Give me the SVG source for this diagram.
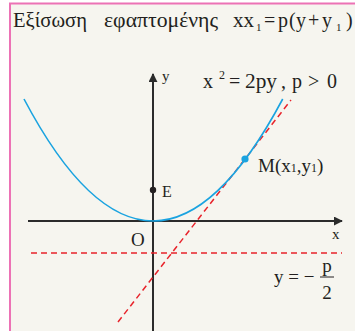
<svg xmlns="http://www.w3.org/2000/svg" width="355" height="331" viewBox="0 0 355 331">
<defs>
<style>
.t{font-family:"Liberation Serif","Times New Roman",serif;fill:#231f20}
.ax{stroke:#2b2b2b;stroke-width:2;fill:none}
.dash{stroke:#e8232b;stroke-width:1.5;fill:none;stroke-dasharray:6 4}
</style>
<marker id="ar" viewBox="0 0 10 10" refX="9" refY="5" markerWidth="9" markerHeight="9" markerUnits="userSpaceOnUse" orient="auto">
<path d="M0,0 L10,5 L0,10 z" fill="#2b2b2b"/>
</marker>
</defs>
<rect width="355" height="331" fill="#ffffff"/>
<rect x="10" y="3.5" width="350" height="330" fill="#f6f5ef" stroke="#ec72b5" stroke-width="2"/>
<g id="title">
<text class="t" x="13" y="27" font-size="20" textLength="74" lengthAdjust="spacingAndGlyphs">Εξίσωση</text>
<text class="t" x="104" y="27" font-size="20" textLength="114" lengthAdjust="spacingAndGlyphs">εφαπτομένης</text>
<g font-size="20" class="t">
<text class="t" x="233" y="27" textLength="21" lengthAdjust="spacingAndGlyphs">xx</text>
<text class="t" x="256" y="31" font-size="11">1</text>
<text class="t" x="264" y="27">=</text>
<text class="t" x="278" y="27">p</text>
<text class="t" x="289" y="27">(</text>
<text class="t" x="296" y="27">y</text>
<text class="t" x="308" y="27">+</text>
<text class="t" x="322" y="27">y</text>
<text class="t" x="336" y="31" font-size="11">1</text>
<text class="t" x="346" y="27">)</text>
</g>
</g>
<g id="connectors">
<line class="ax" x1="28" y1="221" x2="342" y2="221" marker-end="url(#ar)"/>
<line class="ax" x1="153" y1="331" x2="153" y2="74" marker-end="url(#ar)"/>
<line class="dash" x1="31" y1="253" x2="342" y2="253"/>
<line class="dash" x1="118" y1="322" x2="291" y2="100"/>
</g>
<g id="parabola">
<path d="M24,99 Q153,343 282.7,99" fill="none" stroke="#1aa3e0" stroke-width="1.6"/>
</g>
<g id="labels">
<text class="t" x="162" y="81" font-size="15">y</text>
<text class="t" x="332" y="239" font-size="15">x</text>
<text class="t" x="131" y="246" font-size="19">O</text>
<g class="t" font-size="20">
<text class="t" x="203" y="88">x</text>
<text class="t" x="219" y="79" font-size="12">2</text>
<text class="t" x="229" y="88">=</text>
<text class="t" x="245" y="88" textLength="32" lengthAdjust="spacingAndGlyphs">2py</text>
<text class="t" x="281" y="88">,</text>
<text class="t" x="292" y="88">p</text>
<text class="t" x="308" y="88">&gt;</text>
<text class="t" x="327" y="88">0</text>
</g>
</g>
<g id="E">
<circle cx="153" cy="190" r="3.2" fill="#231f20"/>
<text class="t" x="162" y="197" font-size="16">E</text>
</g>
<g id="M">
<circle cx="245" cy="159" r="3.6" fill="#1aa3e0"/>
<text class="t" x="258" y="172" font-size="19">M(x<tspan font-size="12">1</tspan>,y<tspan font-size="12">1</tspan>)</text>
</g>
<g id="directrix-label">
<text class="t" x="274" y="283" font-size="19">y = −</text>
<line x1="320" y1="277" x2="334" y2="277" stroke="#231f20" stroke-width="1"/>
<text class="t" x="327" y="272" font-size="19" text-anchor="middle">p</text>
<text class="t" x="327" y="299" font-size="19" text-anchor="middle">2</text>
</g>
</svg>
